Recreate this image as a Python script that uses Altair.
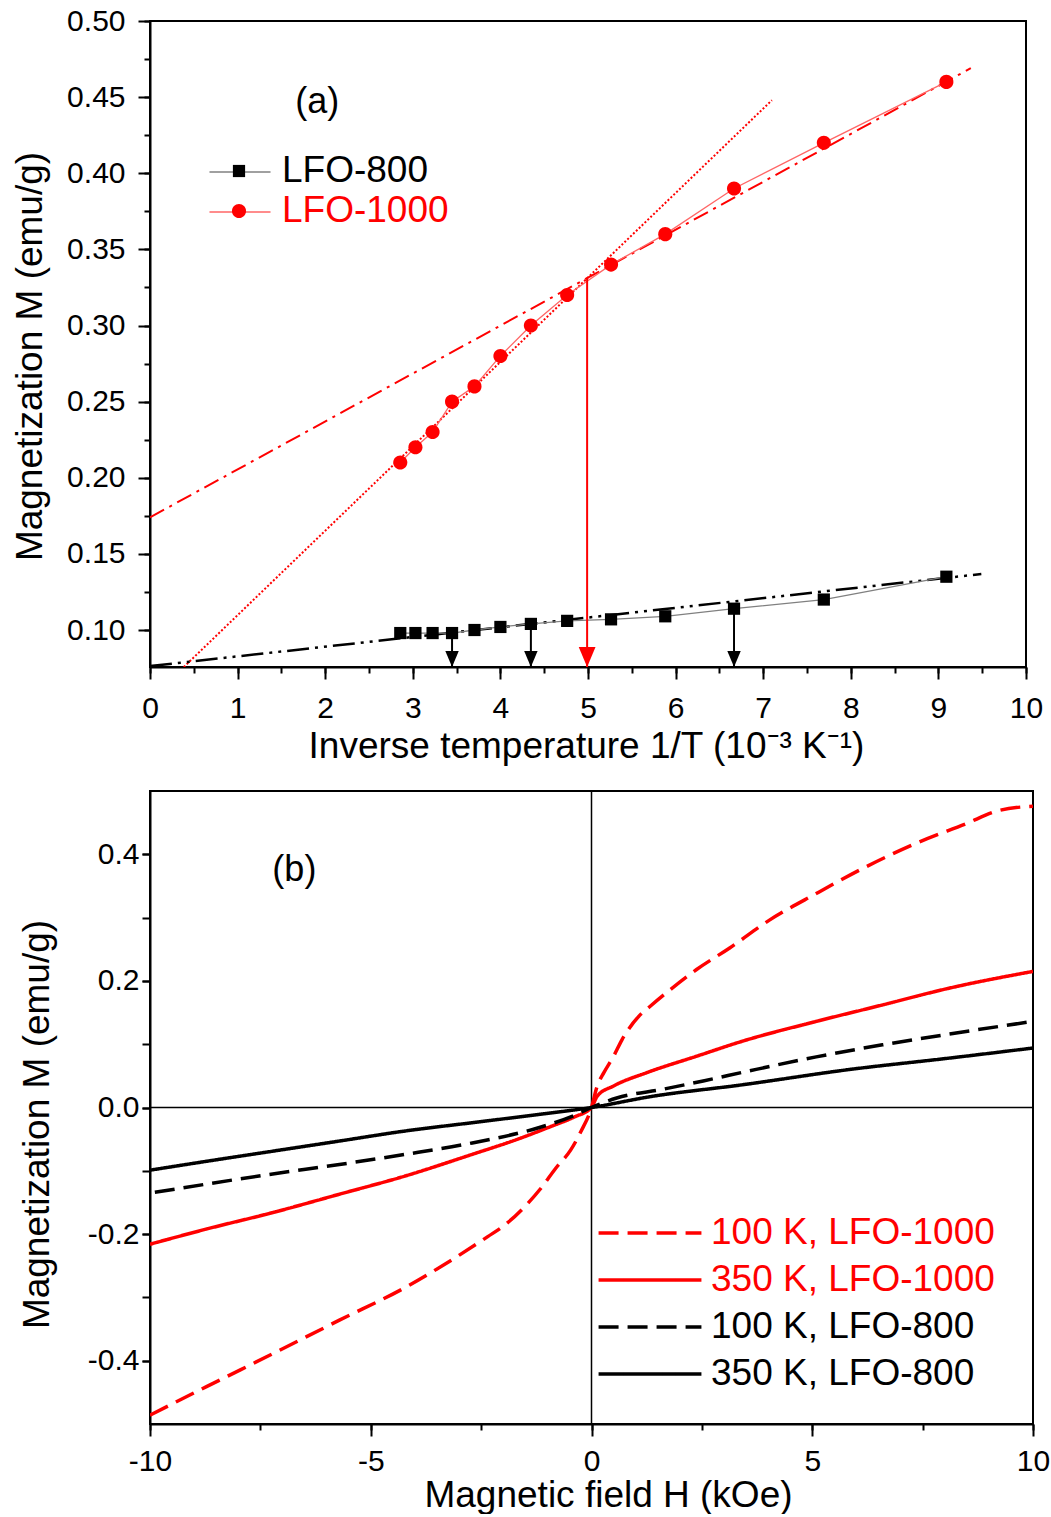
import altair as alt
import pandas as pd

# ---------------- panel (a) data ----------------
inv_T = [2.857, 3.030, 3.226, 3.448, 3.704, 4.000, 4.348, 4.762, 5.263, 5.882, 6.667, 7.692, 9.091]
m_lfo800 = [0.098, 0.098, 0.098, 0.098, 0.100, 0.102, 0.104, 0.106, 0.107, 0.109, 0.114, 0.120, 0.135]
m_lfo1000 = [0.21, 0.22, 0.23, 0.25, 0.26, 0.28, 0.30, 0.32, 0.34, 0.36, 0.39, 0.42, 0.46]
samples = ["LFO-800", "LFO-1000"]

fit_low_x = [0.386, 7.10]      # dotted red fit
fit_low_y = [0.0757, 0.448]
fit_high_x = [0.0, 9.37]       # dash-dot red fit
fit_high_y = [0.174, 0.469]
fit800_x = [0.0, 9.49]         # dash-dot-dot black fit
fit800_y = [0.0763, 0.1368]

arrow800_index = [3, 6, 10]
cross_x = [4.99]
cross_y = [0.331]

label_a = ["(a)"]
label_a_x = [1.91]
label_a_y = [0.447]

xa_domain = [0, 10]
ya_domain = [0.0757, 0.5]
xa_ticks = list(range(0, 11))
ya_ticks = [0.10, 0.15, 0.20, 0.25, 0.30, 0.35, 0.40, 0.45, 0.50]
xa_minor = [i * 0.5 for i in range(21)]
ya_minor = [round(0.1 + 0.025 * i, 3) for i in range(17)]

# ---------------- panel (b) data ----------------
curve_names = ["100 K, LFO-1000", "350 K, LFO-1000", "100 K, LFO-800", "350 K, LFO-800"]
h_100_1000 = [-10, -8.72, -7.22, -5.71, -4.21, -3.08, -2.35, -1.97, -1.45, -1.15, -0.81, -0.47, -0.24,
              0, 0.13, 0.28, 0.50, 0.69, 1.07, 1.33, 1.78, 2.38, 3.13, 4.03, 5.09, 6.21, 7.34, 8.47,
              9.22, 10]
m_100_1000 = [-0.486, -0.441, -0.389, -0.336, -0.284, -0.237, -0.204, -0.186, -0.152, -0.128, -0.096,
              -0.067, -0.038, 0, 0.034, 0.055, 0.081, 0.107, 0.144, 0.160, 0.186, 0.218, 0.252, 0.296,
              0.338, 0.380, 0.417, 0.448, 0.469, 0.476]
h_350_1000 = [-10, -8.72, -7.22, -5.71, -4.21, -2.70, -1.67, -0.92, -0.39, 0, 0.13, 0.50, 1.25, 2.38,
              3.43, 5.09, 6.59, 8.10, 10]
m_350_1000 = [-0.216, -0.192, -0.166, -0.137, -0.108, -0.074, -0.050, -0.030, -0.015, 0, 0.018, 0.034,
              0.055, 0.081, 0.105, 0.136, 0.162, 0.1885, 0.215]
h_100_800 = [-9.89, -8.72, -7.22, -5.71, -4.21, -2.70, -1.20, -0.44, 0, 0.57, 1.63, 2.53, 3.58, 5.09,
             6.59, 8.10, 10]
m_100_800 = [-0.134, -0.121, -0.105, -0.090, -0.074, -0.056, -0.032, -0.014, 0, 0.015, 0.029, 0.042,
             0.058, 0.080, 0.099, 0.116, 0.136]
h_350_800 = [-10, -8.72, -7.22, -5.71, -4.21, -2.70, -1.20, 0, 1.32, 3.43, 5.84, 8.10, 10]
m_350_800 = [-0.099, -0.085, -0.069, -0.053, -0.037, -0.024, -0.011, 0, 0.017, 0.036, 0.060, 0.078, 0.094]
zero_value = [0.0]

label_b = ["(b)"]
label_b_x = [-6.73]
label_b_y = [0.375]

xb_domain = [-10, 10]
yb_domain = [-0.5, 0.5]
xb_ticks = [-10, -5, 0, 5, 10]
xb_minor = [-10, -7.5, -5, -2.5, 0, 2.5, 5, 7.5, 10]
yb_ticks = [-0.4, -0.2, 0.0, 0.2, 0.4]
yb_minor = [-0.4, -0.3, -0.2, -0.1, 0.0, 0.1, 0.2, 0.3, 0.4]

# ---------------- styles ----------------
FONT = "Liberation Sans"
RED = "#ff0000"
SQUARE = "M-0.33,-0.33L0.33,-0.33L0.33,0.33L-0.33,0.33Z"
CIRCLE = "M-0.38,0A0.38,0.38,0,1,1,0.38,0A0.38,0.38,0,1,1,-0.38,0Z"
HEAD = "M0,0L-0.42,-1L0.42,-1Z"
MINUS_FIX = "replace(format(datum.value, '.1f'), '\u2212', '-')"
MINUS_FIX_INT = "replace(format(datum.value, 'd'), '\u2212', '-')"

# ---------------- panel (a) ----------------
pts = pd.DataFrame({
    "inv_T": inv_T * 2,
    "M": m_lfo800 + m_lfo1000,
    "sample": [samples[0]] * len(inv_T) + [samples[1]] * len(inv_T),
})
pts["line_key"] = pts["sample"] + " line"

xs_a = alt.Scale(domain=xa_domain, nice=False, zero=False)
ys_a = alt.Scale(domain=ya_domain, nice=False, zero=False)


def XA(field, axis=None):
    return alt.X(field, type="quantitative", scale=xs_a, axis=axis)


def YA(field, axis=None):
    return alt.Y(field, type="quantitative", scale=ys_a, axis=axis)


ax_a_minor = alt.Axis(orient="bottom", values=xa_minor, tickSize=6, tickWidth=2, labels=False,
                      domain=False, title=None, grid=False)
ay_a_minor = alt.Axis(orient="left", values=ya_minor, tickSize=6, tickWidth=2, labels=False,
                      domain=False, title=None, grid=False)
ax_a_major = alt.Axis(orient="bottom", values=xa_ticks, format="d", tickSize=12, tickWidth=2,
                      domainWidth=2, labelFontSize=30, labelPadding=29, labelBaseline="middle",
                      labelFlush=False, labelOverlap=False, grid=False,
                      title="Inverse temperature 1/T (10\u207b\u00b3 K\u207b\u00b9)",
                      titleFontSize=37, titleX=436, titleY=79, titleBaseline="middle",
                      titleAlign="center")
ay_a_major = alt.Axis(orient="left", values=ya_ticks, format=".2f", tickSize=12, tickWidth=2,
                      domainWidth=2, labelFontSize=30, labelPadding=13, labelOverlap=False,
                      labelFlush=False, grid=False, title="Magnetization M (emu/g)",
                      titleFontSize=37, titleX=-120, titleY=335, titleAngle=270,
                      titleBaseline="middle", titleAlign="center")

minor_a = alt.Chart(pts).mark_point(opacity=0).encode(x=XA("inv_T", ax_a_minor), y=YA("M", ay_a_minor))

fit_low = alt.Chart(pd.DataFrame({"x": fit_low_x, "y": fit_low_y})).mark_line(
    color=RED, strokeWidth=2, strokeDash=[2, 2], clip=True
).encode(x=XA("x", ax_a_major), y=YA("y", ay_a_major))

fit_high = alt.Chart(pd.DataFrame({"x": fit_high_x, "y": fit_high_y})).mark_line(
    color=RED, strokeWidth=2, strokeDash=[16, 6, 3, 6], clip=True
).encode(x=XA("x"), y=YA("y"))

fit_800 = alt.Chart(pd.DataFrame({"x": fit800_x, "y": fit800_y})).mark_line(
    color="black", strokeWidth=2.5, strokeDash=[22, 6, 3, 6, 3, 6], clip=True
).encode(x=XA("x"), y=YA("y"))

line_legend = alt.Legend(orient="none", legendX=70.5, legendY=131.5, title=None,
                         symbolType="M-1.65,0L1.65,0", symbolSize=1369, symbolStrokeWidth=1.5,
                         labelExpr="''", labelFontSize=37, labelOffset=24.5, labelLimit=500,
                         rowPadding=2, padding=0, zindex=1)
marker_legend = alt.Legend(orient="none", legendX=70.5, legendY=131.5, title=None,
                           symbolSize=1369, symbolStrokeWidth=0, labelFontSize=37, labelOffset=24.5,
                           labelLimit=500, rowPadding=2, padding=0, zindex=2, labelFont=FONT,
                           labelColor={"expr": "datum.label == 'LFO-1000' ? '#ff0000' : '#000000'"})

conn_lines = alt.Chart(pts).mark_line(strokeWidth=1.3).encode(
    x=XA("inv_T"), y=YA("M"),
    stroke=alt.Stroke("line_key:N", scale=alt.Scale(domain=[s + " line" for s in samples],
                                                    range=["#808080", "#ff6666"]),
                      legend=line_legend),
)

arr = pd.DataFrame({
    "x": [inv_T[i] for i in arrow800_index],
    "top": [m_lfo800[i] for i in arrow800_index],
    "bottom": [ya_domain[0]] * len(arrow800_index),
})
arr_red = pd.DataFrame({"x": cross_x, "top": cross_y, "bottom": [ya_domain[0]]})

rule800 = alt.Chart(arr).mark_rule(color="black", strokeWidth=2).encode(
    x=XA("x"), y=YA("top"), y2=alt.Y2("bottom"))
head800 = alt.Chart(arr).mark_point(shape=HEAD, size=1024, filled=True, color="black", opacity=1,
                                    strokeWidth=0).encode(x=XA("x"), y=YA("bottom"))
rule_red = alt.Chart(arr_red).mark_rule(color=RED, strokeWidth=2).encode(
    x=XA("x"), y=YA("top"), y2=alt.Y2("bottom"))
head_red = alt.Chart(arr_red).mark_point(shape=HEAD, size=1600, filled=True, color=RED, opacity=1,
                                         strokeWidth=0).encode(x=XA("x"), y=YA("bottom"))

markers = alt.Chart(pts).mark_point(filled=True, size=1369, opacity=1, strokeWidth=0).encode(
    x=XA("inv_T"), y=YA("M"),
    fill=alt.Fill("sample:N", scale=alt.Scale(domain=samples, range=["#000000", RED]),
                  legend=marker_legend),
    shape=alt.Shape("sample:N", scale=alt.Scale(domain=samples, range=[SQUARE, CIRCLE]),
                    legend=marker_legend),
)

tag_a = alt.Chart(pd.DataFrame({"t": label_a, "x": label_a_x, "y": label_a_y})).mark_text(
    fontSize=36, font=FONT, color="black", align="center", baseline="middle"
).encode(x=XA("x"), y=YA("y"), text="t:N")

panel_a = alt.layer(
    minor_a, fit_low, fit_high, fit_800, conn_lines, rule800, head800, rule_red, head_red, markers,
    tag_a
).properties(width=876, height=646).resolve_axis(x="independent", y="independent")

# ---------------- panel (b) ----------------
curves = pd.concat([
    pd.DataFrame({"H": h_100_1000, "M": m_100_1000, "curve": curve_names[0]}),
    pd.DataFrame({"H": h_350_1000, "M": m_350_1000, "curve": curve_names[1]}),
    pd.DataFrame({"H": h_100_800, "M": m_100_800, "curve": curve_names[2]}),
    pd.DataFrame({"H": h_350_800, "M": m_350_800, "curve": curve_names[3]}),
], ignore_index=True)

xs_b = alt.Scale(domain=xb_domain, nice=False, zero=False)
ys_b = alt.Scale(domain=yb_domain, nice=False, zero=False)


def XB(field, axis=None):
    return alt.X(field, type="quantitative", scale=xs_b, axis=axis)


def YB(field, axis=None):
    return alt.Y(field, type="quantitative", scale=ys_b, axis=axis)


ax_b_minor = alt.Axis(orient="bottom", values=xb_minor, tickSize=6, tickWidth=2, labels=False,
                      domain=False, title=None, grid=False)
ay_b_minor = alt.Axis(orient="left", values=yb_minor, tickSize=8, tickWidth=2, labels=False,
                      domain=False, title=None, grid=False)
ax_b_major = alt.Axis(orient="bottom", values=xb_ticks, labelExpr=MINUS_FIX_INT, tickSize=12,
                      tickWidth=2, domainWidth=2, labelFontSize=30, labelPadding=25,
                      labelBaseline="middle", labelFlush=False, labelOverlap=False, grid=False,
                      title="Magnetic field H (kOe)", titleFontSize=37, titleX=458, titleY=71,
                      titleBaseline="middle", titleAlign="center")
ay_b_major = alt.Axis(orient="left", values=yb_ticks, labelExpr=MINUS_FIX, tickSize=8, tickWidth=2,
                      domainWidth=2, labelFontSize=30, labelPadding=3, labelOverlap=False,
                      labelFlush=False, grid=False, title="Magnetization M (emu/g)",
                      titleFontSize=37, titleX=-113, titleY=333, titleAngle=270,
                      titleBaseline="middle", titleAlign="center")

legend_b = alt.Legend(orient="none", legendX=479.5, legendY=421.5, title=None,
                      symbolType="M-2.78,0L2.78,0", symbolSize=1369, symbolStrokeWidth=3.5,
                      labelFontSize=37, labelOffset=40.5, labelLimit=500, rowPadding=8, padding=0,
                      labelFont=FONT,
                      labelColor={"expr": "indexof(datum.label, 'LFO-1000') >= 0 ? '#ff0000' : '#000000'"})

minor_b = alt.Chart(curves).mark_point(opacity=0).encode(x=XB("H", ax_b_minor), y=YB("M", ay_b_minor))

zero_df = pd.DataFrame({"v": zero_value})
vline = alt.Chart(zero_df).mark_rule(color="black", strokeWidth=1.5).encode(x=XB("v", ax_b_major))
hline = alt.Chart(zero_df).mark_rule(color="black", strokeWidth=1.5).encode(y=YB("v", ay_b_major))

curve_lines = alt.Chart(curves).mark_line(strokeWidth=3.5, interpolate="monotone", clip=True).encode(
    x=XB("H"), y=YB("M"),
    stroke=alt.Stroke("curve:N", scale=alt.Scale(domain=curve_names,
                                                 range=[RED, RED, "#000000", "#000000"]),
                      legend=legend_b),
    strokeDash=alt.StrokeDash("curve:N", scale=alt.Scale(domain=curve_names,
                                                         range=[[20, 9], [1, 0], [20, 9], [1, 0]]),
                              legend=legend_b),
)

tag_b = alt.Chart(pd.DataFrame({"t": label_b, "x": label_b_x, "y": label_b_y})).mark_text(
    fontSize=36, font=FONT, color="black", align="center", baseline="middle"
).encode(x=XB("x"), y=YB("y"), text="t:N")

panel_b = alt.layer(minor_b, vline, hline, curve_lines, tag_b).properties(
    width=883, height=633).resolve_axis(x="independent", y="independent")

chart = alt.vconcat(panel_a, panel_b, spacing=24).resolve_scale(
    stroke="independent", fill="independent", shape="independent", strokeDash="independent"
).properties(
    padding={"left": 10, "top": 5, "right": 0, "bottom": 0}
).configure(font=FONT).configure_view(stroke="black", strokeWidth=2).configure_axis(
    grid=False, labelColor="black", titleColor="black", tickColor="black", domainColor="black",
    titleFontWeight="normal", labelFont=FONT, titleFont=FONT
).configure_legend(labelFont=FONT)

chart.save("out.html", embed_options={"renderer": "svg", "actions": False})
